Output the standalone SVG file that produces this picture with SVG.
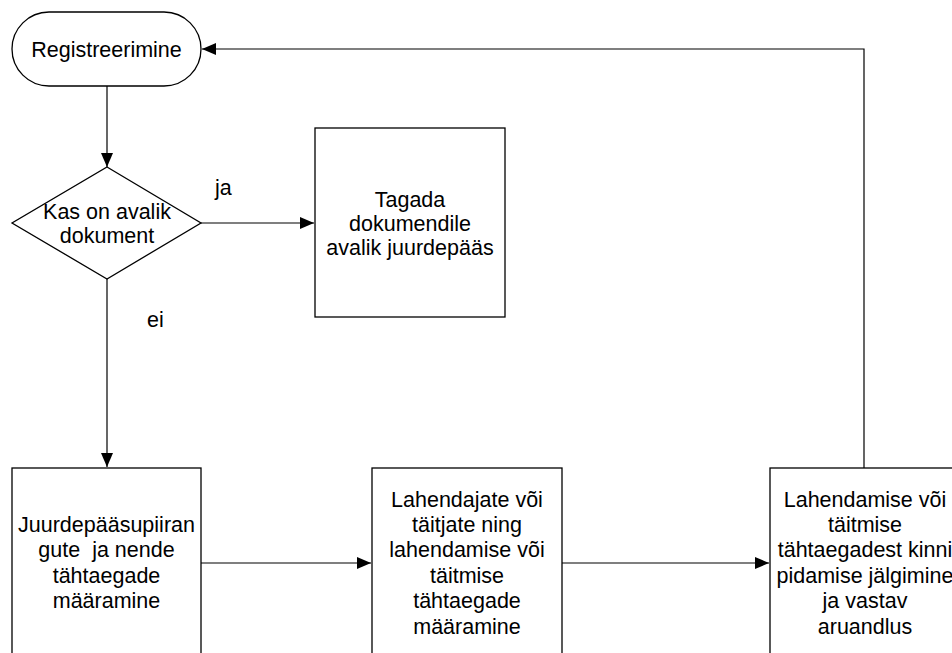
<svg xmlns="http://www.w3.org/2000/svg" width="952" height="653" viewBox="0 0 952 653">
<style>
.shape{fill:#fff;stroke:#000;stroke-width:1.3}
.conn{fill:none;stroke:#000;stroke-width:1.2}
text{font-family:"Liberation Sans",Arial,sans-serif;font-size:21.5px;fill:#000;text-anchor:middle}
.lbl{text-anchor:start}
</style>
<defs>
<marker id="arr" viewBox="0 0 14 12" refX="14" refY="6" markerWidth="14" markerHeight="12" markerUnits="userSpaceOnUse" orient="auto">
<path d="M0,0 L14,6 L0,12 Z" fill="#000"/>
</marker>
</defs>
<g id="connectors">
<line class="conn" x1="107" y1="86" x2="107" y2="167" marker-end="url(#arr)"/>
<line class="conn" x1="201" y1="223" x2="314" y2="223" marker-end="url(#arr)"/>
<line class="conn" x1="107" y1="279" x2="107" y2="467" marker-end="url(#arr)"/>
<line class="conn" x1="201" y1="563" x2="371" y2="563" marker-end="url(#arr)"/>
<line class="conn" x1="562" y1="563" x2="769" y2="563" marker-end="url(#arr)"/>
<polyline class="conn" points="864,468 864,49 202,49" marker-end="url(#arr)"/>
<text class="lbl" x="215" y="195">ja</text>
<text class="lbl" x="147" y="327">ei</text>
</g>
<g id="registreerimine">
<rect class="shape" x="12" y="12" width="189" height="74" rx="37" ry="37"/>
<text x="106.5" y="57">Registreerimine</text>
</g>
<g id="avalik-dokument">
<polygon class="shape" points="107,167 201,223 107,279 12,223"/>
<text x="107" y="219">Kas on avalik</text>
<text x="107" y="243">dokument</text>
</g>
<g id="tagada">
<rect class="shape" x="315" y="128" width="190" height="189"/>
<text x="410" y="207">Tagada</text>
<text x="410" y="231">dokumendile</text>
<text x="410" y="255">avalik juurdepääs</text>
</g>
<g id="juurdepaasupiirangud">
<rect class="shape" x="12" y="468" width="189" height="200"/>
<text x="106.5" y="532">Juurdepääsupiiran</text>
<text x="106.5" y="557" xml:space="preserve" style="white-space:pre">gute  ja nende</text>
<text x="106.5" y="583">tähtaegade</text>
<text x="106.5" y="608">määramine</text>
</g>
<g id="lahendajad">
<rect class="shape" x="372" y="468" width="190" height="200"/>
<text x="467" y="507">Lahendajate või</text>
<text x="467" y="532">täitjate ning</text>
<text x="467" y="557">lahendamise või</text>
<text x="467" y="583">täitmise</text>
<text x="467" y="608">tähtaegade</text>
<text x="467" y="634">määramine</text>
</g>
<g id="jalgimine">
<rect class="shape" x="770" y="468" width="190" height="200"/>
<text x="865" y="507">Lahendamise või</text>
<text x="865" y="532">täitmise</text>
<text x="865" y="557">tähtaegadest kinni</text>
<text x="865" y="583">pidamise jälgimine</text>
<text x="865" y="608">ja vastav</text>
<text x="865" y="634">aruandlus</text>
</g>
</svg>
